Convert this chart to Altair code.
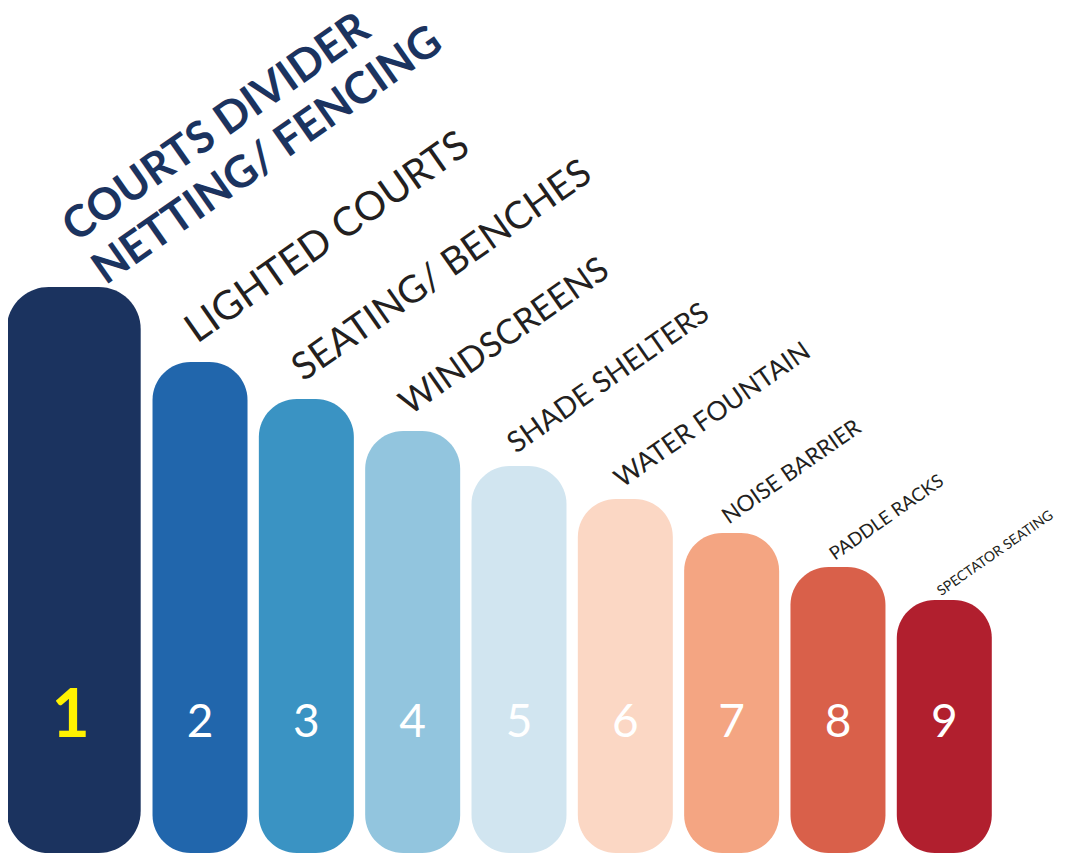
import altair as alt
import pandas as pd

# ---- data ----
categories = [
    "COURTS DIVIDER\nNETTING/ FENCING",
    "LIGHTED COURTS",
    "SEATING/ BENCHES",
    "WINDSCREENS",
    "SHADE SHELTERS",
    "WATER FOUNTAIN",
    "NOISE BARRIER",
    "PADDLE RACKS",
    "SPECTATOR SEATING",
]
ranks = [1, 2, 3, 4, 5, 6, 7, 8, 9]
values = [566, 491, 454, 422, 387, 354, 320, 286, 253]

# ---- styles ----
colors = ["#1B335F", "#2166AC", "#3A93C3", "#92C5DE", "#D1E5F0",
          "#FBD7C4", "#F4A582", "#D9604A", "#B11F2E"]
label_sizes = [40, 38, 34.5, 29, 26.5, 22.5, 18.5, 14]   # ranks 2..9

df = pd.DataFrame({"category": categories, "rank": ranks, "value": values})
df["num"] = df["rank"].astype(str)

W, H = 1049, 845
X_DOMAIN = [0.194, 10.06]
PX = W / (X_DOMAIN[1] - X_DOMAIN[0])

xs = alt.Scale(domain=X_DOMAIN, nice=False, zero=False, padding=0)
ys = alt.Scale(domain=[0, H], nice=False, padding=0)
cs = alt.Scale(domain=categories, range=colors)

base = alt.Chart(df)

bars = base.mark_bar(size=95, cornerRadius=38).encode(
    x=alt.X("rank:Q", scale=xs, axis=None),
    y=alt.Y("value:Q", scale=ys, axis=None),
    y2=alt.Y2(datum=0),
    color=alt.Color("category:N", scale=cs, legend=None),
).transform_filter("datum.rank > 1")

bar1 = base.mark_bar(size=134, cornerRadius=42, xOffset=-20).encode(
    x=alt.X("rank:Q", scale=xs, axis=None),
    y=alt.Y("value:Q", scale=ys, axis=None),
    y2=alt.Y2(datum=0),
    color=alt.Color("category:N", scale=cs, legend=None),
).transform_filter("datum.rank == 1")

labels = base.transform_filter("datum.rank > 1").transform_calculate(
    fs=f"{label_sizes}[datum.rank - 2]",
).transform_calculate(
    ly="datum.value + 0.55 * datum.fs - 4",
    lx=f"datum.rank - 3 / {PX}",
).mark_text(angle=325, align="left", baseline="alphabetic",
            font="Lato", color="#231F20").encode(
    x=alt.X("lx:Q", scale=xs, axis=None),
    y=alt.Y("ly:Q", scale=ys, axis=None),
    text="category:N",
    size=alt.Size("fs:Q", scale=None, legend=None),
)

title = base.transform_filter("datum.rank == 1").mark_text(
    angle=325, align="left", baseline="alphabetic", font="Lato",
    fontWeight="bold", fontSize=44, lineHeight=52, lineBreak="\n",
    color="#1B335F", xOffset=-18, yOffset=-44,
).encode(
    x=alt.X("rank:Q", scale=xs, axis=None),
    y=alt.Y("value:Q", scale=ys, axis=None),
    text="category:N",
)

nums = base.transform_filter("datum.rank > 1").mark_text(
    align="center", baseline="alphabetic", font="Lato", fontSize=46,
    color="white",
).encode(
    x=alt.X("rank:Q", scale=xs, axis=None),
    y=alt.Y(datum=116, scale=ys, axis=None),
    text="num:N",
)

num1 = base.transform_filter("datum.rank == 1").mark_text(
    align="center", baseline="alphabetic", font="Lato", fontSize=66,
    fontWeight="bold", color="#FFF200", xOffset=-23,
).encode(
    x=alt.X("rank:Q", scale=xs, axis=None),
    y=alt.Y(datum=116, scale=ys, axis=None),
    text="num:N",
)

chart = alt.layer(bars, bar1, labels, title, nums, num1).properties(
    width=W, height=H,
    autosize=alt.AutoSizeParams(type="none"),
    padding=0,
    background="white",
).configure_view(stroke=None)

chart.save("out.html", embed_options={"renderer": "svg", "actions": False})
